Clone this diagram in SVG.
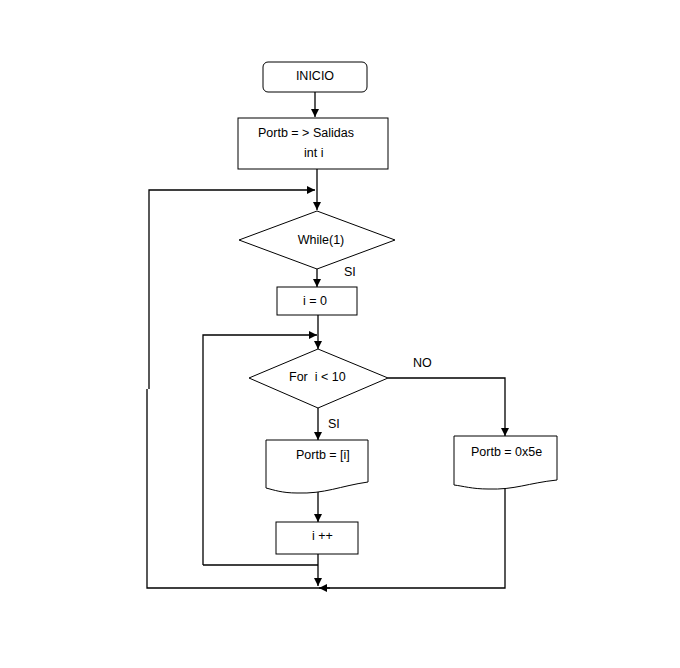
<svg xmlns="http://www.w3.org/2000/svg" width="680" height="668" viewBox="0 0 680 668">
<style>
.s{fill:#fff;stroke:#000;stroke-width:1}
.c{fill:none;stroke:#000;stroke-width:1.3}
text{font-family:"Liberation Sans","Open Sans",sans-serif;font-size:12.5px;fill:#000}
</style>
<defs>
<marker id="a" viewBox="0 0 10 10" refX="10" refY="5" markerWidth="8" markerHeight="8" markerUnits="userSpaceOnUse" orient="auto">
<path d="M0,0L10,5L0,10z" fill="#000"/>
</marker>
</defs>
<rect width="680" height="668" fill="#fff"/>
<g id="connectors">
<path class="c" d="M315,92V117" marker-end="url(#a)"/>
<path class="c" d="M317,169V210" marker-end="url(#a)"/>
<path class="c" d="M149,389V190H315" marker-end="url(#a)"/>
<path class="c" d="M147,389V588H505V486"/>
<path class="c" d="M330,588H319" marker-end="url(#a)"/>
<path class="c" d="M317,269V287" marker-end="url(#a)"/>
<path class="c" d="M318,315V349" marker-end="url(#a)"/>
<path class="c" d="M203,565V335H317" marker-end="url(#a)"/>
<path class="c" d="M318,408V440" marker-end="url(#a)"/>
<path class="c" d="M388,378H505V436" marker-end="url(#a)"/>
<path class="c" d="M318,491V522" marker-end="url(#a)"/>
<path class="c" d="M318,554V586" marker-end="url(#a)"/>
<path class="c" d="M318,565H203"/>
</g>
<g id="inicio">
<rect class="s" x="263" y="62" width="104" height="30" rx="5"/>
<text x="315" y="80" text-anchor="middle">INICIO</text>
</g>
<g id="init">
<rect class="s" x="238" y="118" width="150" height="51"/>
<text x="258" y="137">Portb = &gt; Salidas</text>
<text x="304" y="157">int i</text>
</g>
<g id="while">
<polygon class="s" points="317,211 395,240 317,269 239,240"/>
<text x="321" y="244" text-anchor="middle">While(1)</text>
</g>
<text x="344" y="276">SI</text>
<g id="i0">
<rect class="s" x="277" y="287" width="80" height="28"/>
<text x="315" y="305" text-anchor="middle">i = 0</text>
</g>
<g id="for">
<polygon class="s" points="318,349 388,378 318,408 249,378"/>
<text x="289" y="381" xml:space="preserve">For  i &lt; 10</text>
</g>
<text x="413" y="367">NO</text>
<text x="328" y="428">SI</text>
<g id="portbi">
<path class="s" d="M266,440H368V482C340,486 325,494 297,493C282,493 274,490 266,488Z"/>
<text x="296" y="459">Portb = [i]</text>
</g>
<g id="portb5e">
<path class="s" d="M454,436H557V480C528,483 515,490 488,489C472,489 463,486 454,485Z"/>
<text x="471" y="456">Portb = 0x5e</text>
</g>
<g id="inc">
<rect class="s" x="276" y="522" width="82" height="32"/>
<text x="312" y="540">i ++</text>
</g>
</svg>
